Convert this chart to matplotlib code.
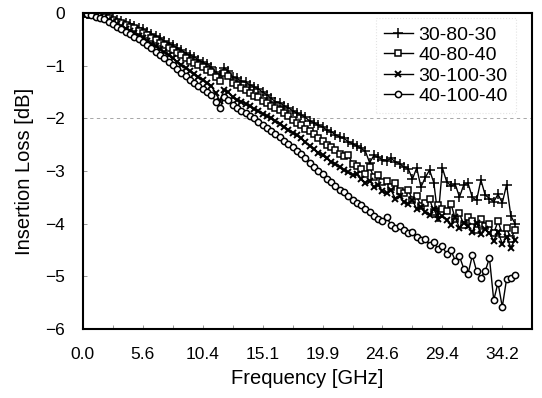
import matplotlib
matplotlib.use('Agg')
import matplotlib.pyplot as plt
import numpy as np

plt.rcParams['font.family'] = ['Liberation Sans', 'DejaVu Sans']

# x tick labels (GHz), spaced evenly every 14 samples
tick_labels = ['0.0', '5.6', '10.4', '15.1', '19.9', '24.6', '29.4', '34.2']
tick_step = 14

# insertion loss [dB], 102 samples each
loss_30_80_30 = [
    0.00, -0.01, -0.02, -0.03, -0.05, -0.07, -0.09, -0.11, -0.13, -0.15,
    -0.18, -0.21, -0.24, -0.28, -0.31, -0.36, -0.39, -0.44, -0.47, -0.53,
    -0.57, -0.61, -0.66, -0.70, -0.76, -0.80, -0.83, -0.89, -0.93, -0.97,
    -1.02, -1.12, -1.17, -1.04, -1.10, -1.21, -1.24, -1.29, -1.31, -1.36,
    -1.40, -1.44, -1.50, -1.55, -1.62, -1.68, -1.70, -1.76, -1.80, -1.85,
    -1.90, -1.93, -1.98, -2.05, -2.08, -2.13, -2.16, -2.22, -2.25, -2.31,
    -2.35, -2.38, -2.44, -2.48, -2.52, -2.57, -2.62, -2.84, -2.70, -2.74,
    -2.78, -2.80, -2.76, -2.82, -2.86, -2.92, -2.95, -3.15, -2.94, -3.30,
    -3.12, -2.98, -3.22, -3.88, -2.94, -3.20, -3.28, -3.25, -3.49, -3.26,
    -3.23, -3.50, -3.55, -3.17, -3.45, -3.52, -3.58, -3.44, -3.60, -3.26,
    -3.85, -4.00]
loss_40_80_40 = [
    0.00, -0.01, -0.03, -0.04, -0.06, -0.08, -0.10, -0.13, -0.16, -0.19,
    -0.22, -0.26, -0.29, -0.34, -0.38, -0.42, -0.47, -0.51, -0.56, -0.61,
    -0.66, -0.70, -0.76, -0.80, -0.86, -0.90, -0.95, -0.99, -1.03, -1.08,
    -1.12, -1.22, -1.28, -1.13, -1.20, -1.32, -1.36, -1.42, -1.46, -1.52,
    -1.57, -1.60, -1.66, -1.70, -1.76, -1.80, -1.84, -1.90, -1.96, -2.02,
    -2.08, -2.12, -2.20, -2.24, -2.30, -2.38, -2.42, -2.50, -2.55, -2.60,
    -2.68, -2.72, -2.70, -2.86, -2.90, -2.95, -3.05, -2.92, -3.12, -3.08,
    -3.20, -3.18, -3.30, -3.22, -3.38, -3.42, -3.35, -3.55, -3.48, -3.66,
    -3.60, -3.52, -3.78, -3.65, -3.72, -3.75, -3.62, -3.90, -3.80, -4.02,
    -3.88, -3.95, -4.12, -3.90, -4.05, -4.00, -4.18, -3.95, -4.20, -4.08,
    -4.28, -4.12]
loss_30_100_30 = [
    0.00, -0.01, -0.03, -0.05, -0.07, -0.10, -0.13, -0.17, -0.21, -0.25,
    -0.30, -0.34, -0.38, -0.43, -0.47, -0.52, -0.58, -0.63, -0.69, -0.74,
    -0.80, -0.86, -0.92, -0.98, -1.04, -1.10, -1.15, -1.21, -1.27, -1.32,
    -1.38, -1.52, -1.66, -1.46, -1.50, -1.60, -1.64, -1.68, -1.72, -1.77,
    -1.82, -1.86, -1.91, -1.96, -2.00, -2.05, -2.10, -2.16, -2.21, -2.27,
    -2.32, -2.38, -2.45, -2.52, -2.58, -2.65, -2.70, -2.76, -2.82, -2.86,
    -2.92, -2.98, -3.02, -3.08, -3.05, -3.15, -3.22, -3.18, -3.30, -3.26,
    -3.38, -3.42, -3.36, -3.52, -3.48, -3.58, -3.62, -3.55, -3.72, -3.68,
    -3.78, -3.84, -3.72, -3.90, -3.85, -3.92, -4.02, -3.88, -4.08, -3.98,
    -4.05, -4.15, -3.98, -4.20, -4.10, -4.18, -4.32, -4.15, -4.38, -4.25,
    -4.45, -4.30]
loss_40_100_40 = [
    0.00, -0.02, -0.04, -0.07, -0.09, -0.12, -0.16, -0.21, -0.26, -0.30,
    -0.35, -0.40, -0.45, -0.50, -0.55, -0.60, -0.66, -0.73, -0.79, -0.86,
    -0.92, -0.99, -1.06, -1.13, -1.20, -1.27, -1.33, -1.38, -1.44, -1.49,
    -1.55, -1.68, -1.80, -1.60, -1.65, -1.75, -1.80, -1.85, -1.90, -1.95,
    -2.00, -2.06, -2.12, -2.18, -2.24, -2.30, -2.36, -2.42, -2.48, -2.55,
    -2.62, -2.68, -2.76, -2.84, -2.92, -3.00, -3.06, -3.14, -3.20, -3.28,
    -3.35, -3.40, -3.48, -3.55, -3.60, -3.65, -3.72, -3.78, -3.85, -3.90,
    -3.95, -3.88, -4.02, -4.08, -4.05, -4.12, -4.18, -4.15, -4.25, -4.30,
    -4.28, -4.40, -4.35, -4.48, -4.42, -4.58, -4.50, -4.70, -4.62, -4.85,
    -4.95, -4.60, -4.90, -5.02, -4.90, -4.65, -5.45, -5.12, -5.58, -5.05,
    -5.02, -4.97]

series_names = ['30-80-30', '40-80-40', '30-100-30', '40-100-40']

fig = plt.figure(figsize=(5.42, 3.98), dpi=100)
ax = fig.add_axes([0.153, 0.173, 0.829, 0.794])

x = np.arange(len(loss_30_80_30))

ax.plot(x, loss_30_80_30, color='black', lw=1.0, marker='+', ms=6.5, mew=1.1,
        label=series_names[0])
ax.plot(x, loss_40_80_40, color='black', lw=1.0, marker='s', ms=4.5, mew=1.1,
        mfc='white', label=series_names[1])
ax.plot(x, loss_30_100_30, color='black', lw=1.0, marker='x', ms=4.5, mew=1.4,
        label=series_names[2])
ax.plot(x, loss_40_100_40, color='black', lw=1.0, marker='o', ms=4.5, mew=1.1,
        mfc='white', label=series_names[3])

# faint dashed grid line seen in the scan
ax.axhline(-2, color='#999999', lw=0.6, ls=(0, (4, 4)), zorder=0)

ax.set_xlim(0, len(x) - 1)
ax.set_ylim(-6, 0)
ax.set_xticks(np.arange(len(tick_labels)) * tick_step)
ax.set_xticklabels(tick_labels)
ax.set_xticks(np.arange(len(tick_labels)) * tick_step + tick_step / 2, minor=True)
ax.set_yticks(np.arange(-6, 1, 1))

ax.tick_params(axis='both', which='both', direction='in', color='#888888',
               width=0.6, length=3, labelsize=12.5)
ax.tick_params(axis='y', pad=13)
ax.tick_params(axis='x', pad=13)

for s in ax.spines.values():
    s.set_linewidth(1.5)

ax.set_xlabel('Frequency [GHz]', fontsize=14.5, labelpad=5)
ax.set_ylabel('Insertion Loss [dB]', fontsize=14.5, labelpad=8)

leg = ax.legend(loc='upper right', bbox_to_anchor=(0.985, 1.015), fontsize=14,
                handlelength=1.5, handletextpad=0.3, labelspacing=0.15,
                frameon=True, fancybox=False, borderpad=0.4)
leg.get_frame().set_edgecolor('#dddddd')
leg.get_frame().set_linestyle(':')
leg.get_frame().set_linewidth(0.8)

fig.savefig('out.png', dpi=100)
